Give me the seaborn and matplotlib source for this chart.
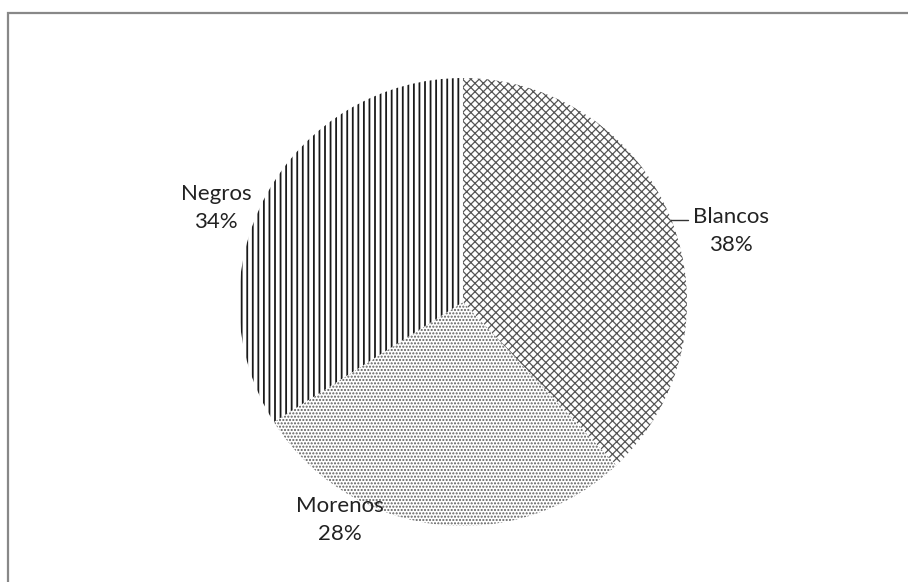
import matplotlib
matplotlib.use("Agg")
import matplotlib.pyplot as plt
import seaborn as sns
import numpy as np
from matplotlib.patches import Rectangle

# Population shares by group
categories = ["Blancos", "Morenos", "Negros"]
shares = [38, 28, 34]
pct_labels = ["38%", "28%", "34%"]

sns.set_theme(style="white")
plt.rcParams["font.family"] = ["Lato", "DejaVu Sans"]
plt.rcParams["hatch.linewidth"] = 1.2

W, H = 908, 582
fig = plt.figure(figsize=(W / 100, H / 100), dpi=100)
ax = fig.add_axes([0, 0, 1, 1])

cx, cy, r = 463, H - 302, 224
hatches = ["xxxx", ".....", "|||"]
hatch_colors = ["#555555", "#5e5e5e", "#1a1a1a"]
hatch_widths = [0.9, 1.0, 1.3]

wedges, _ = ax.pie(shares, startangle=90, counterclock=False,
                   center=(cx, cy), radius=r, frame=True,
                   colors=["white"] * 3,
                   wedgeprops=dict(linewidth=0))
for w, h, c, lw in zip(wedges, hatches, hatch_colors, hatch_widths):
    w.set_hatch(h)
    w.set_edgecolor(c)
    w.set_linewidth(0)
    if hasattr(w, "set_hatch_linewidth"):
        w.set_hatch_linewidth(lw)
    else:
        w._hatch_linewidth = lw
ax.set_xlim(0, W)
ax.set_ylim(0, H)
ax.set_aspect("equal")
ax.axis("off")

# Label block centres (pixel layout, measured from top-left)
label_pos = {"Blancos": (731, 231), "Morenos": (340, 520), "Negros": (216, 208)}
for cat, pct in zip(categories, pct_labels):
    x, y = label_pos[cat]
    ax.text(x, H - y, f"{cat}\n{pct}", ha="center", va="center",
            fontsize=16, color="#222222", linespacing=1.45)

# Leader line for the Blancos label
ly = 302 - 220
lx = np.sqrt(r ** 2 - ly ** 2)
ax.plot([cx + lx, 688], [cy + ly, cy + ly], color="#333333", lw=1.0)

# Chart-area border
fig.patches.append(Rectangle((8 / W, -0.1), 1.2, 1 - 13 / H + 0.1,
                             transform=fig.transFigure, fill=False,
                             edgecolor="#888888", linewidth=1.6))

fig.savefig("out.png", dpi=100)
